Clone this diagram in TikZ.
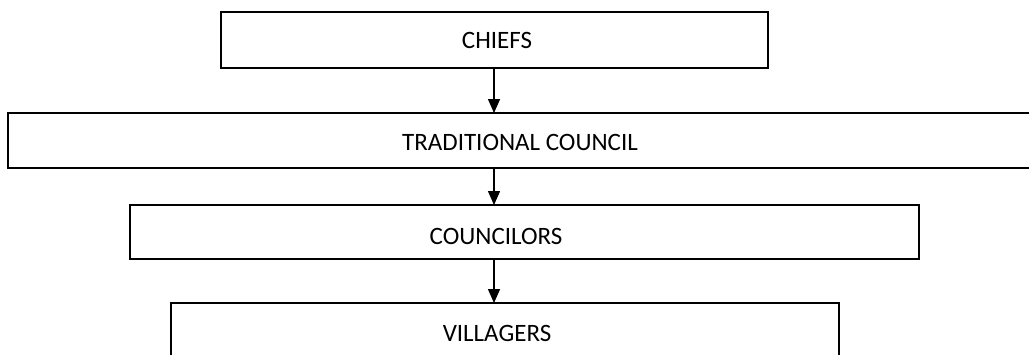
\documentclass[tikz,border=0pt]{standalone}
\usepackage{fontspec}
\setmainfont{Carlito}
\usetikzlibrary{arrows.meta}
\begin{document}
\begin{tikzpicture}[x=1pt,y=-1pt,
  boxs/.style={draw=black,line width=1.6pt,fill=white,inner sep=0pt},
  lbl/.style={inner sep=0pt,font=\fontsize{25}{30}\selectfont},
  arr/.style={line width=1.4pt,-{Triangle[length=14pt,width=12pt]}}]
\useasboundingbox (0,0) rectangle (1029,354);
\clip (0,0) rectangle (1029,354);
\node[boxs,minimum width=547pt,minimum height=56pt] (chiefs) at (494.5,40) {};
\node[boxs,minimum width=1036pt,minimum height=55pt] (trad) at (526,140.5) {};
\node[boxs,minimum width=789pt,minimum height=54pt] (counc) at (524.5,232) {};
\node[boxs,minimum width=668pt,minimum height=100pt] (vill) at (505,353) {};
\node[lbl] (tchiefs) at (497,40) {CHIEFS};
\node[lbl] (ttrad) at (520,142) {TRADITIONAL COUNCIL};
\node[lbl] (tcounc) at (496,236) {COUNCILORS};
\node[lbl] (tvill) at (497,333) {VILLAGERS};
\coordinate (a1) at (494,68);
\coordinate (b1) at (494,113);
\coordinate (a2) at (494,168);
\coordinate (b2) at (494,205);
\coordinate (a3) at (494,259);
\coordinate (b3) at (494,303);
\draw[arr] (a1) -- (b1);
\draw[arr] (a2) -- (b2);
\draw[arr] (a3) -- (b3);
\end{tikzpicture}
\end{document}
